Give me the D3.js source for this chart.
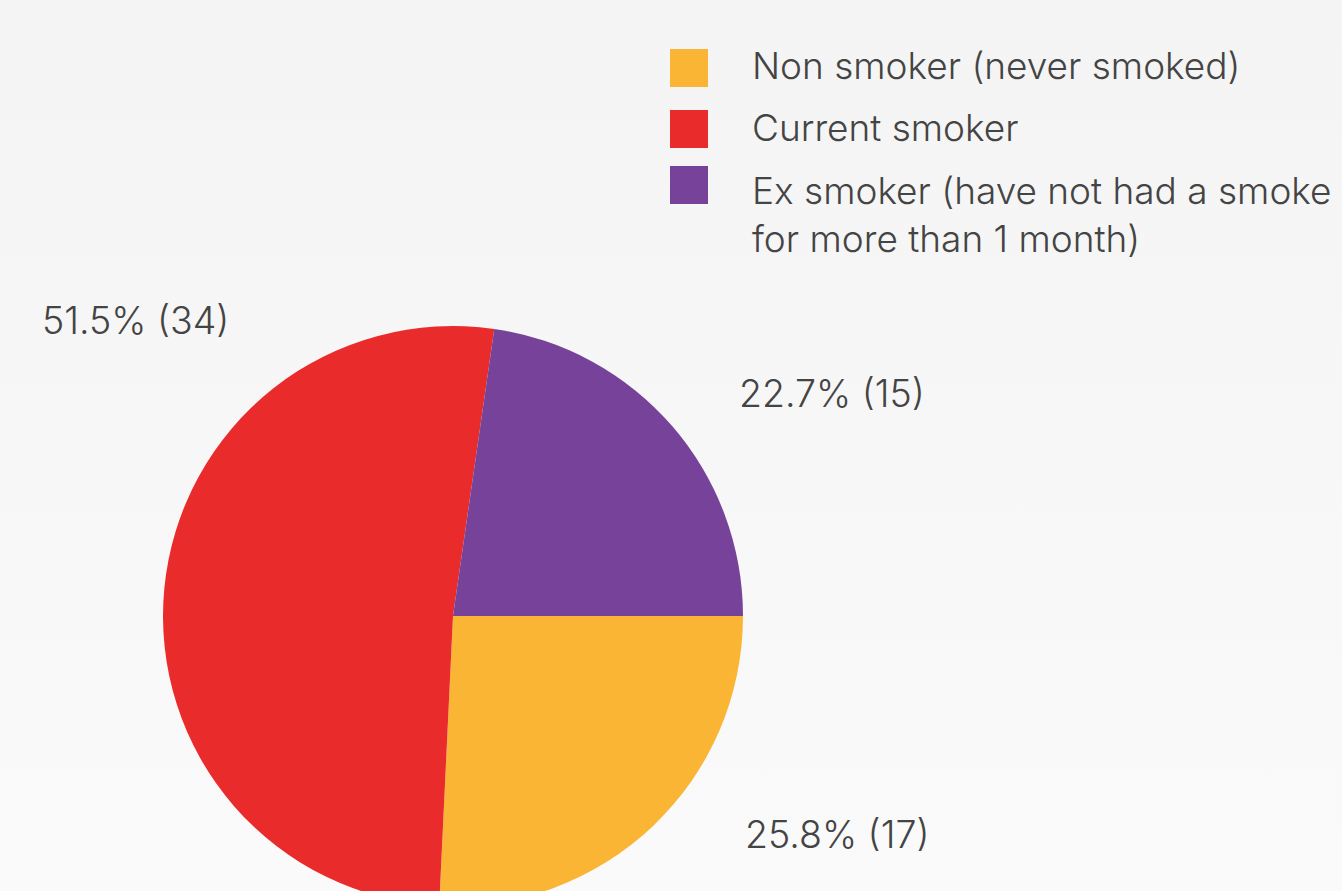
<!DOCTYPE html>
<html>
<head>
<meta charset="utf-8">
<script src="https://cdn.jsdelivr.net/npm/d3@7"></script>
<style>
  html, body { margin: 0; padding: 0; overflow: hidden; }
  body { width: 1342px; height: 891px; }
  text { font-family: Inter, Roboto, sans-serif; font-weight: 300; fill: #444; }
</style>
</head>
<body>
<div id="chart"></div>
<script>
const categories = ['Non smoker (never smoked)', 'Current smoker', 'Ex smoker (have not had a smoke\nfor more than 1 month)'];
const counts = [17, 34, 15];
const percents = [25.8, 51.5, 22.7];
const colors = ['#FBB534', '#EA2B2B', '#774299'];

const width = 1342;
const height = 891;
const cx = 453, cy = 616, radius = 290;

// where each slice label sits, relative to the pie centre
const labelOffsets = [[292, 232], [-411, -282], [286, -209]];

const svg = d3.select('#chart')
    .append('svg')
    .attr('width', width)
    .attr('height', height);

const defs = svg.append('defs');
const grad = defs.append('linearGradient')
    .attr('id', 'bg')
    .attr('x1', 0).attr('y1', 0).attr('x2', 0).attr('y2', 1);
grad.append('stop').attr('offset', '0%').attr('stop-color', '#F4F4F4');
grad.append('stop').attr('offset', '100%').attr('stop-color', '#FAFAFA');

svg.append('rect')
    .attr('width', width)
    .attr('height', height)
    .attr('fill', 'url(#bg)');

const pieData = categories.map((c, i) => ({name: c, count: counts[i], pct: percents[i], color: colors[i]}));

const pie = d3.pie()
    .sort(null)
    .value(d => d.count)
    .startAngle(Math.PI / 2)
    .endAngle(Math.PI / 2 + 2 * Math.PI);

const arc = d3.arc()
    .innerRadius(0)
    .outerRadius(radius);

const g = svg.append('g')
    .attr('transform', `translate(${cx},${cy})`);

g.selectAll('path')
    .data(pie(pieData))
    .enter()
    .append('path')
    .attr('d', arc)
    .attr('fill', d => d.data.color);

g.selectAll('text.lbl')
    .data(pieData)
    .enter()
    .append('text')
    .attr('class', 'lbl')
    .attr('x', (d, i) => labelOffsets[i][0])
    .attr('y', (d, i) => labelOffsets[i][1])
    .style('font-size', '37.5px')
    .text(d => `${d.pct}% (${d.count})`);

// legend
const legend = svg.append('g')
    .attr('transform', 'translate(670,0)');

const boxY = [49, 110, 166];
const textY = [79, 141, 204];

const item = legend.selectAll('g')
    .data(pieData)
    .enter()
    .append('g');

item.append('rect')
    .attr('y', (d, i) => boxY[i])
    .attr('width', 38)
    .attr('height', 38)
    .attr('fill', d => d.color);

item.append('text')
    .attr('y', (d, i) => textY[i])
    .style('font-size', '37px')
    .selectAll('tspan')
    .data(d => d.name.split('\n'))
    .enter()
    .append('tspan')
    .attr('x', 82)
    .attr('dy', (d, i) => i === 0 ? 0 : 48)
    .text(d => d);
</script>
</body>
</html>
